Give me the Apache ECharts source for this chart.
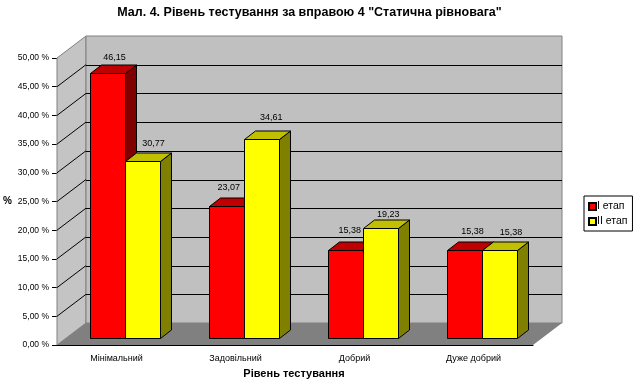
<!DOCTYPE html>
<html><head><meta charset="utf-8">
<style>html,body{margin:0;padding:0;background:#fff}#c{width:640px;height:386px}</style>
<script src="https://cdn.jsdelivr.net/npm/echarts@6/dist/echarts.min.js"></script>
</head><body><div id="c"></div>
<script>
const categories = ["Мінімальний","Задовільний","Добрий","Дуже добрий"];
const stage1 = [46.15, 23.07, 15.38, 15.38];
const stage2 = [30.77, 34.61, 19.23, 15.38];
const gridTicks = [5,10,15,20,25,30,35,40,45];
const stageNames = ["I етап","II етап"];
const titleText = 'Мал. 4. Рівень тестування за вправою 4 "Статична рівновага"';

const FONT = '"Liberation Sans", Arial, sans-serif';
const WALL = {x:29, y:22}, BAR = {x:11, y:8.5}, SHIFT = {x:8.5, y:7}, BAR_RATIO = 0.294;
const LABEL_NUDGE = [
  [[1,1.3],[-3.7,-1.3],[-1.7,-2.3],[2,-1.3]],
  [[5,0],[3.7,-4.3],[1.8,3.3],[5.5,-0.3]]
];
const snap = v => Math.round(v) + 0.5;
const poly = (points, fill, stroke) => ({type:'polygon', shape:{points}, style:{fill, stroke:stroke||null, lineWidth:1}, silent:true});

function wallsItem(params, api){
  const c = params.coordSys, l=c.x, r=c.x+c.width, t=c.y, b=c.y+c.height;
  const dx=WALL.x, dy=WALL.y;
  return {type:'group', children:[
    poly([[l,t],[l+dx,t-dy],[l+dx,b-dy],[l,b]], '#c4c4c4', '#808080'),
    poly([[l+dx,t-dy],[r+dx,t-dy],[r+dx,b-dy],[l+dx,b-dy]], '#c0c0c0', '#808080'),
    poly([[l,b],[l+dx,b-dy],[r+dx,b-dy],[r,b]], '#808080', null)
  ]};
}
function gridItem(params, api){
  const c = params.coordSys, y = api.coord([0, api.value(0)])[1];
  const l=c.x, r=c.x+c.width, s={stroke:'#000', lineWidth:1};
  return {type:'group', children:[
    {type:'line', shape:{x1:l,y1:y,x2:l+WALL.x,y2:y-WALL.y}, style:s, silent:true},
    {type:'line', shape:{x1:l+WALL.x,y1:snap(y-WALL.y),x2:r+WALL.x,y2:snap(y-WALL.y)}, style:s, silent:true}
  ]};
}
function barBox(api, order){
  const p = api.coord([api.value(0), api.value(1)]);
  const p0 = api.coord([api.value(0), 0]);
  const w = api.size([1,0])[0]*BAR_RATIO;
  return {
    x0: snap(p[0] + SHIFT.x - w + order*w),
    x1: snap(p[0] + SHIFT.x + order*w),
    yt: snap(p[1] - SHIFT.y),
    yb: snap(p0[1] - SHIFT.y)
  };
}
function barRenderer(order, front, top, side){
  return function(params, api){
    const {x0,x1,yt,yb} = barBox(api, order);
    const dx = BAR.x, dy = BAR.y;
    return {type:'group', children:[
      poly([[x1,yt],[x1+dx,yt-dy],[x1+dx,yb-dy],[x1,yb]], side, '#000'),
      poly([[x0,yt],[x0+dx,yt-dy],[x1+dx,yt-dy],[x1,yt]], top, '#000'),
      {type:'rect', shape:{x:x0,y:yt,width:x1-x0,height:yb-yt}, style:{fill:front,stroke:'#000',lineWidth:1}, silent:true}
    ]};
  };
}
function labelRenderer(order){
  return function(params, api){
    const {x0,x1,yt} = barBox(api, order);
    const n = LABEL_NUDGE[order][params.dataIndex];
    return {type:'text', x:(x0+x1)/2+BAR.x/2+n[0], y:yt-BAR.y-9+n[1], silent:true,
      style:{text:api.value(1).toFixed(2).replace('.',','), fill:'#000', font:'9px '+FONT, align:'center', verticalAlign:'middle'}};
  };
}
const chart = echarts.init(document.getElementById('c'), null, {renderer:'canvas'});
chart.setOption({
  animation:false,
  backgroundColor:'#fff',
  title:{text:titleText, left:304.5, top:1, textAlign:'center', textStyle:{fontFamily:FONT, fontSize:12.5, fontWeight:'bold', color:'#000'}},
  legend:{
    orient:'vertical', left:584, top:196, data:stageNames, icon:'rect', itemWidth:7, itemHeight:7, itemGap:4,
    padding:[5,5,4,4], borderColor:'#000', borderWidth:1, backgroundColor:'#fff',
    selectedMode:false,
    textStyle:{fontFamily:FONT, fontSize:10.5, color:'#000', padding:[0,0,0,-4]}
  },
  grid:{left:57, top:58, width:476, height:287, containLabel:false, outerBoundsMode:'none'},
  xAxis:{type:'category', data:categories, name:'Рівень тестування', nameLocation:'middle', nameGap:23,
    nameTextStyle:{fontFamily:FONT, fontSize:11, fontWeight:'bold', color:'#000', padding:[0,0,0,-2]},
    axisLine:{lineStyle:{color:'#000'}}, axisTick:{length:4, lineStyle:{color:'#000'}, alignWithLabel:false},
    axisLabel:{fontFamily:FONT, fontSize:9, color:'#000', margin:9, interval:0}, splitLine:{show:false}},
  yAxis:{type:'value', min:0, max:50, interval:5, name:'%', nameLocation:'middle', nameGap:41, nameRotate:0,
    nameTextStyle:{fontFamily:FONT, fontSize:10, fontWeight:'bold', color:'#000'},
    axisLine:{show:true, lineStyle:{color:'#808080'}}, axisTick:{show:true, length:5, lineStyle:{color:'#000'}},
    axisLabel:{fontFamily:FONT, fontSize:8.5, color:'#000', margin:8, formatter:v=>v.toFixed(2).replace('.',',')+' %'},
    splitLine:{show:false}},
  series:[
    {type:'custom', name:'walls', data:[[0]], encode:{x:[],y:[]}, renderItem:wallsItem, silent:true, z:1},
    {type:'custom', name:'gridlines', data:gridTicks.map(v=>[v]), encode:{y:0}, renderItem:gridItem, silent:true, z:2},
    {type:'custom', name:stageNames[0], data:stage1.map((v,i)=>[i,v]), encode:{x:0,y:1}, itemStyle:{color:'#ff0000',borderColor:'#000',borderWidth:1}, renderItem:barRenderer(0,'#ff0000','#c00000','#800000'), z:3},
    {type:'custom', name:stageNames[1], data:stage2.map((v,i)=>[i,v]), encode:{x:0,y:1}, itemStyle:{color:'#ffff00',borderColor:'#000',borderWidth:1}, renderItem:barRenderer(1,'#ffff00','#c0c000','#808000'), z:4},
    {type:'custom', name:'labels1', data:stage1.map((v,i)=>[i,v]), encode:{x:0,y:1}, renderItem:labelRenderer(0), silent:true, z:5},
    {type:'custom', name:'labels2', data:stage2.map((v,i)=>[i,v]), encode:{x:0,y:1}, renderItem:labelRenderer(1), silent:true, z:5}
  ]
});
</script></body></html>
